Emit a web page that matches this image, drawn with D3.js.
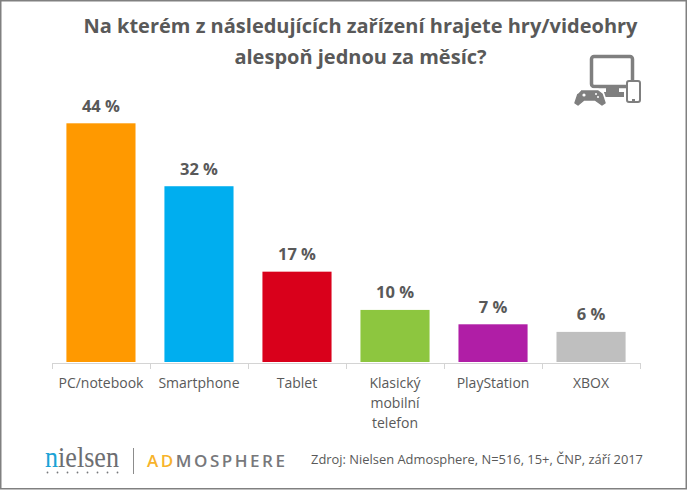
<!DOCTYPE html>
<html lang="cs">
<head>
<meta charset="UTF-8">
<title>Zařízení</title>
<script src="https://d3js.org/d3.v7.min.js"></script>
<style>
  html, body { margin: 0; padding: 0; background: #fff; }
  svg { display: block; }
  text { font-family: "Open Sans", sans-serif; }
</style>
</head>
<body>
<div id="chart"></div>
<script>
var width = 687, height = 490;

var categories = ["PC/notebook", "Smartphone", "Tablet", "Klasický mobilní telefon", "PlayStation", "XBOX"];
// bar heights, the labels are these values rounded
var values = [44, 32.4, 16.65, 9.6, 6.95, 5.55];
var barColors = ["#ff9900", "#00aeef", "#d9001b", "#8dc63f", "#b01ea6", "#bfbfbf"];
var titleLines = ["Na kterém z následujících zařízení hrajete hry/videohry", "alespoň jednou za měsíc?"];
var source = "Zdroj: Nielsen Admosphere, N=516, 15+, ČNP, září 2017";

var svg = d3.select("#chart").append("svg")
    .attr("width", width)
    .attr("height", height);

// frame of the screenshot
svg.append("rect").attr("x", 0.75).attr("y", 0.75)
    .attr("width", width - 1.5).attr("height", height - 2)
    .attr("fill", "#fff").attr("stroke", "#808080").attr("stroke-width", 1.5);

var x = d3.scaleBand().domain(categories).range([52, 640]).paddingInner(0.295).paddingOuter(0.147);
var y = d3.scaleLinear().domain([0, 44]).range([362, 123.3]);

// title
svg.append("g").selectAll("text")
    .data(titleLines)
    .enter().append("text")
    .attr("x", 360.5)
    .attr("y", function(d, i) { return 33 + i * 31; })
    .attr("text-anchor", "middle")
    .attr("font-size", "20px")
    .attr("font-weight", 700)
    .attr("fill", "#595959")
    .text(function(d) { return d; });

// bars
svg.selectAll("rect.bar")
    .data(categories)
    .enter().append("rect")
    .attr("class", "bar")
    .attr("x", function(d) { return x(d); })
    .attr("y", function(d, i) { return y(values[i]); })
    .attr("width", x.bandwidth())
    .attr("height", function(d, i) { return y(0) - y(values[i]); })
    .attr("fill", function(d, i) { return barColors[i]; });

// value labels
svg.selectAll("text.value")
    .data(categories)
    .enter().append("text")
    .attr("class", "value")
    .attr("x", function(d) { return x(d) + x.bandwidth() / 2; })
    .attr("y", function(d, i) { return y(values[i]) - 11.5; })
    .attr("text-anchor", "middle")
    .attr("font-size", "16.5px")
    .attr("font-weight", 700)
    .attr("fill", "#595959")
    .text(function(d, i) { return Math.round(values[i]) + " %"; });

// axis line with ticks between the categories
var step = x.step();
var axis = svg.append("g").attr("stroke", "#d4d4d4").attr("stroke-width", 1);
axis.append("line").attr("x1", 52).attr("x2", 640).attr("y1", 363.5).attr("y2", 363.5);
d3.range(categories.length + 1).forEach(function(i) {
    var tx = Math.round(52 + i * step) + 0.5;
    axis.append("line").attr("x1", tx).attr("x2", tx).attr("y1", 363).attr("y2", 369);
});

// category labels, wrapped by hand like in the original
var labelLines = [["PC/notebook"], ["Smartphone"], ["Tablet"], ["Klasický", "mobilní", "telefon"], ["PlayStation"], ["XBOX"]];
var labels = svg.append("g");
labelLines.forEach(function(lines, i) {
    lines.forEach(function(line, j) {
        labels.append("text")
            .attr("x", x(categories[i]) + x.bandwidth() / 2)
            .attr("y", 388 + j * 20)
            .attr("text-anchor", "middle")
            .attr("font-size", "14px")
            .attr("fill", "#595959")
            .text(line);
    });
});

// device icon
var icon = svg.append("g").attr("fill", "#7f7f7f").attr("stroke", "none");
icon.append("rect").attr("x", 591.5).attr("y", 56.5).attr("width", 41).attr("height", 30).attr("rx", 2.5)
    .attr("fill", "none").attr("stroke", "#7f7f7f").attr("stroke-width", 3.5);
icon.append("rect").attr("x", 606).attr("y", 87).attr("width", 13).attr("height", 7);
icon.append("rect").attr("x", 604).attr("y", 92).attr("width", 20).attr("height", 5);
icon.append("rect").attr("x", 627).attr("y", 81).attr("width", 13).attr("height", 21).attr("rx", 2)
    .attr("fill", "#fff").attr("stroke", "#7f7f7f").attr("stroke-width", 2);
icon.append("rect").attr("x", 632).attr("y", 99).attr("width", 3).attr("height", 2);
icon.append("path").attr("d", d3.line()([[581, 91], [598, 91], [602, 94], [605, 103], [602, 105], [595, 100], [584, 100], [578, 105], [575, 103], [578, 94]]))
    .attr("stroke", "#fff").attr("stroke-linejoin", "round").attr("stroke-width", 5);
icon.append("path").attr("d", d3.line()([[581, 91], [598, 91], [602, 94], [605, 103], [602, 105], [595, 100], [584, 100], [578, 105], [575, 103], [578, 94]]))
    .attr("stroke", "#7f7f7f").attr("stroke-linejoin", "round").attr("stroke-width", 1.5);
icon.append("circle").attr("cx", 584).attr("cy", 95).attr("r", 1.6).attr("fill", "#fff");
icon.append("circle").attr("cx", 596).attr("cy", 94).attr("r", 1).attr("fill", "#fff");
icon.append("circle").attr("cx", 598).attr("cy", 97).attr("r", 1).attr("fill", "#fff");

// logos
svg.append("text").attr("x", 45).attr("y", 467)
    .style("font-family", "'Liberation Serif', serif")
    .attr("font-size", "29px").attr("textLength", 74).attr("lengthAdjust", "spacingAndGlyphs").attr("fill", "#6d6e71")
    .html('<tspan fill="#1ba3d6">n</tspan>ielsen');
var dots = svg.append("g").attr("fill", "#77787b");
d3.range(8).forEach(function(i) {
    dots.append("circle").attr("cx", 47.5 + i * 10).attr("cy", 472.5).attr("r", 0.9);
});
svg.append("line").attr("x1", 133.5).attr("x2", 133.5).attr("y1", 448).attr("y2", 474)
    .attr("stroke", "#8c8c8c").attr("stroke-width", 1);
svg.append("text").attr("x", 147).attr("y", 467)
    .attr("font-size", "17px").attr("font-weight", 600).attr("textLength", 138).attr("fill", "#77787b")
    .html('<tspan fill="#f7b32b">AD</tspan>MOSPHERE');

// source
svg.append("text").attr("x", 643).attr("y", 464)
    .attr("text-anchor", "end")
    .attr("font-size", "12.9px")
    .attr("fill", "#595959")
    .text(source);
</script>
</body>
</html>
